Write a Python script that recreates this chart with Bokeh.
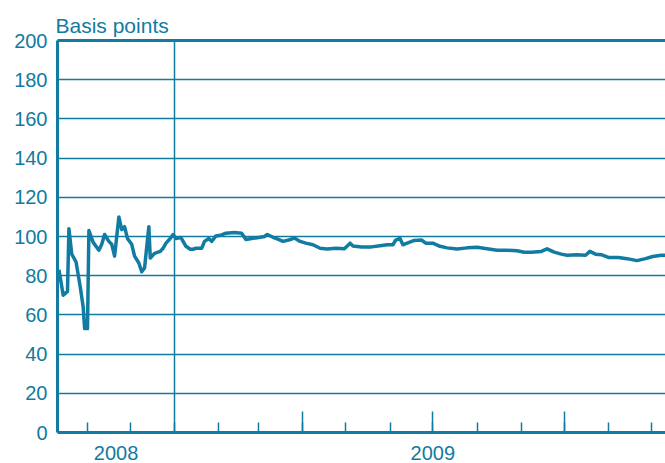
import pandas as pd
from bokeh.plotting import figure
from bokeh.models import LinearAxis, FixedTicker, Range1d, Grid, Title
from bokeh.embed import file_html
from bokeh.resources import INLINE

# ---- data ----
dates = [
    "2008-10-12", "2008-10-15", "2008-10-18", "2008-10-19", "2008-10-21", "2008-10-24",
    "2008-10-27", "2008-10-29", "2008-10-30", "2008-11-01", "2008-11-02", "2008-11-05",
    "2008-11-09", "2008-11-11", "2008-11-13", "2008-11-16", "2008-11-18", "2008-11-20",
    "2008-11-23", "2008-11-25", "2008-11-27", "2008-11-29", "2008-12-02", "2008-12-04",
    "2008-12-07", "2008-12-09", "2008-12-11", "2008-12-14", "2008-12-15", "2008-12-18",
    "2008-12-22", "2008-12-24", "2008-12-26", "2008-12-29", "2008-12-31", "2009-01-02",
    "2009-01-05", "2009-01-06", "2009-01-09", "2009-01-12", "2009-01-14", "2009-01-16",
    "2009-01-20", "2009-01-22", "2009-01-25", "2009-01-27", "2009-01-30", "2009-02-03",
    "2009-02-06", "2009-02-12", "2009-02-17", "2009-02-20", "2009-02-24", "2009-03-02",
    "2009-03-05", "2009-03-07", "2009-03-11", "2009-03-14", "2009-03-18", "2009-03-22",
    "2009-03-26", "2009-03-30", "2009-04-03", "2009-04-08", "2009-04-13", "2009-04-18",
    "2009-04-24", "2009-04-30", "2009-05-04", "2009-05-06", "2009-05-12", "2009-05-19",
    "2009-05-25", "2009-05-30", "2009-06-03", "2009-06-05", "2009-06-08", "2009-06-10",
    "2009-06-13", "2009-06-18", "2009-06-23", "2009-06-26", "2009-07-01", "2009-07-06",
    "2009-07-11", "2009-07-18", "2009-07-25", "2009-08-01", "2009-08-08", "2009-08-15",
    "2009-08-22", "2009-08-29", "2009-09-03", "2009-09-08", "2009-09-15", "2009-09-19",
    "2009-09-24", "2009-09-29", "2009-10-03", "2009-10-10", "2009-10-16", "2009-10-19",
    "2009-10-23", "2009-10-27", "2009-11-01", "2009-11-08", "2009-11-14", "2009-11-21",
    "2009-11-27", "2009-12-02", "2009-12-08", "2009-12-11",
]
spread_bp = [
    83, 70, 72, 104, 91, 87,
    74, 64, 53, 53, 103, 97,
    93, 96, 101, 97.5, 96, 90,
    110, 103.5, 105, 99, 96, 90,
    86.5, 82, 84, 105, 89, 91.4,
    92.4, 94, 96.6, 99, 101, 99,
    99.5, 98.8, 95, 93.5, 93.5, 94,
    94, 97.5, 99, 97.5, 100.3, 100.8,
    101.7, 102, 101.7, 98.5, 99, 99.6,
    100, 101, 99.6, 98.8, 97.5, 98.2,
    99.2, 97.5, 96.6, 95.8, 94, 93.6,
    94, 93.8, 96.6, 95.2, 94.7, 94.7,
    95.3, 95.8, 95.8, 98.2, 99, 95.8,
    96.6, 98, 98.2, 96.6, 96.6, 95,
    94.2, 93.6, 94.2, 94.5, 93.8, 93,
    93, 92.7, 92, 92, 92.4, 93.7,
    92, 91, 90.4, 90.7, 90.4, 92.4,
    91, 90.7, 89.3, 89.3, 88.7, 87.7,
    88.7, 89.8, 90.4, 90.4,
]
x_start, x_end = "2008-10-11", "2009-12-11"
y_ticks = list(range(0, 201, 20))
year_labels = ["2008", "2009"]
month_starts = ["2008-11-01", "2008-12-01", "2009-01-01", "2009-02-01", "2009-03-01",
                "2009-04-01", "2009-05-01", "2009-06-01", "2009-07-01", "2009-08-01",
                "2009-09-01", "2009-10-01", "2009-11-01", "2009-12-01"]
quarter_starts = ["2009-04-01", "2009-07-01", "2009-10-01"]
event_date = "2009-01-01"

TEAL = "#117ba1"
FONT = "Liberation Sans"


def ms(d):
    return pd.Timestamp(d).value / 1e6


x = pd.to_datetime(dates)
xs, xe = ms(x_start), ms(x_end)
# 2008 label centred on the visible part of 2008, 2009 label at mid-year
year_pos = [(xs + ms("2009-01-01")) / 2, ms("2009-07-01")]

p = figure(width=665, height=463, x_axis_type=None, y_axis_type=None,
           x_range=Range1d(xs, xe), y_range=Range1d(0, 200),
           output_backend="svg", toolbar_location=None,
           min_border_left=57, min_border_right=0, min_border_top=40, min_border_bottom=31)
p.outline_line_color = None
p.background_fill_color = "white"

# top frame line (nearest the frame)
top = LinearAxis(ticker=FixedTicker(ticks=[]), axis_line_color=TEAL, axis_line_width=3,
                 major_tick_in=0, major_tick_out=0, minor_tick_in=0, minor_tick_out=0,
                 major_label_standoff=0, major_label_text_font_size="1px")
p.add_layout(top, "above")

# unit title
p.add_layout(Title(text="Basis points", align="left", text_color=TEAL, text_font=FONT,
                   text_font_size="21px", text_font_style="normal", standoff=7,
                   offset=-2), "above")

# grids
p.add_layout(Grid(dimension=1, ticker=FixedTicker(ticks=y_ticks[1:-1]),
                  grid_line_color=TEAL, grid_line_width=1.5))
p.add_layout(Grid(dimension=0, ticker=FixedTicker(ticks=[ms(event_date)]),
                  grid_line_color=TEAL, grid_line_width=1.5))

# left axis
yax = LinearAxis(ticker=FixedTicker(ticks=y_ticks),
                 major_tick_in=0, major_tick_out=0, minor_tick_in=0, minor_tick_out=0,
                 axis_line_color=TEAL, axis_line_width=3,
                 major_label_text_color=TEAL, major_label_text_font=FONT,
                 major_label_text_font_size="20px", major_label_standoff=10)
p.add_layout(yax, "left")

# bottom axis with month / quarter ticks
qt = [ms(d) for d in quarter_starts]
xax = LinearAxis(ticker=FixedTicker(ticks=qt, minor_ticks=[ms(d) for d in month_starts]),
                 major_label_overrides={t: "" for t in qt},
                 major_tick_in=21, major_tick_out=0, minor_tick_in=10, minor_tick_out=0,
                 major_tick_line_color=TEAL, minor_tick_line_color=TEAL,
                 major_tick_line_width=1.5, minor_tick_line_width=1.5,
                 axis_line_color=TEAL, axis_line_width=3,
                 major_label_text_font_size="1px", major_label_standoff=0)
p.add_layout(xax, "below")

# year labels
lax = LinearAxis(ticker=FixedTicker(ticks=year_pos),
                 major_label_overrides={t: l for t, l in zip(year_pos, year_labels)},
                 major_tick_in=0, major_tick_out=0, minor_tick_in=0, minor_tick_out=0,
                 axis_line_color=None,
                 major_label_text_color=TEAL, major_label_text_font=FONT,
                 major_label_text_font_size="20px", major_label_standoff=13)
p.add_layout(lax, "below")

p.line(x, spread_bp, line_color=TEAL, line_width=3.5, line_join="round")

open("out.html", "w").write(file_html(p, INLINE))
